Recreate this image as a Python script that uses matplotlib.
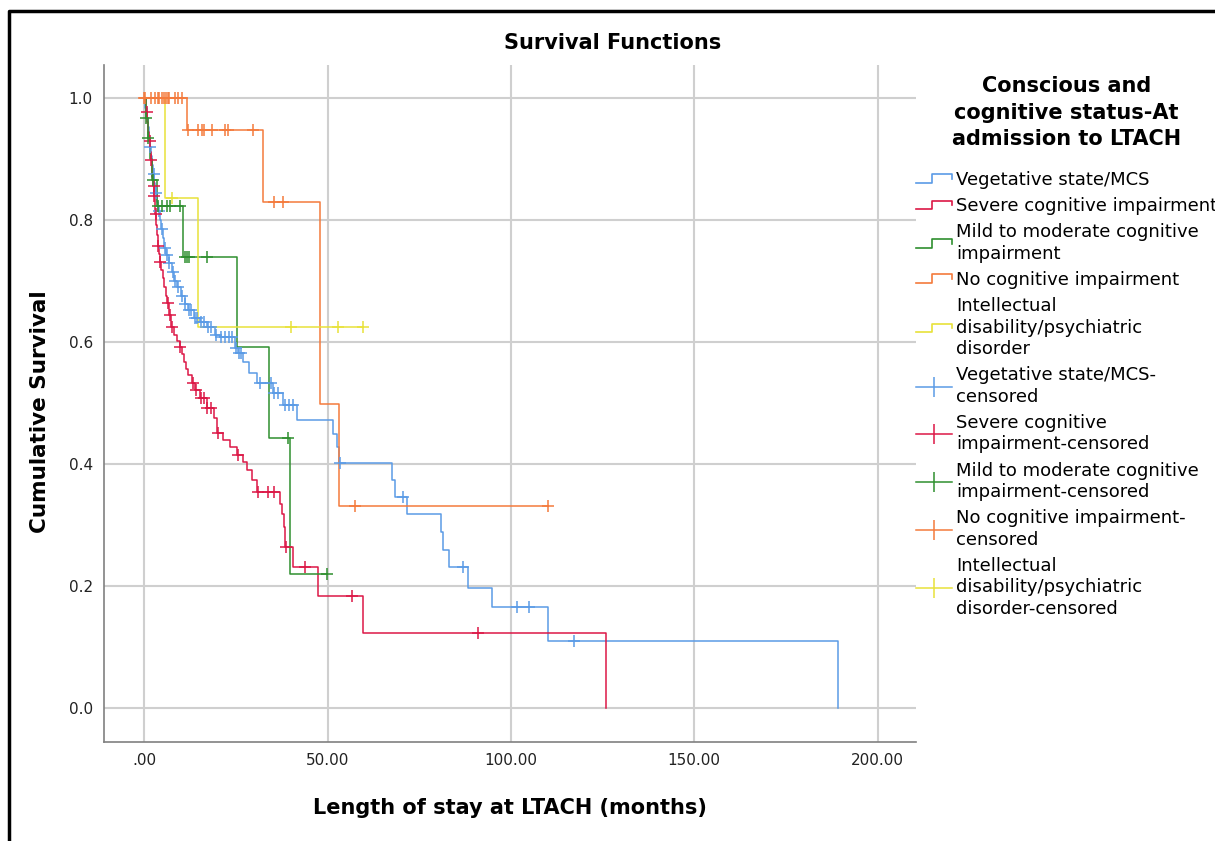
"""
Survival Functions - Kaplan-Meier style chart, length of stay at LTACH
"""

import numpy as np
import matplotlib
matplotlib.use("Agg")
import matplotlib.pyplot as plt
from matplotlib.lines import Line2D
from matplotlib.legend_handler import HandlerBase
from matplotlib.ticker import FuncFormatter

plt.rcParams['font.family'] = ['DejaVu Sans']

# group names (legend order)
groups = ["Vegetative state/MCS",
          "Severe cognitive impairment",
          "Mild to moderate cognitive\nimpairment",
          "No cognitive impairment",
          "Intellectual\ndisability/psychiatric\ndisorder"]
censored_labels = ["Vegetative state/MCS-\ncensored",
                   "Severe cognitive\nimpairment-censored",
                   "Mild to moderate cognitive\nimpairment-censored",
                   "No cognitive impairment-\ncensored",
                   "Intellectual\ndisability/psychiatric\ndisorder-censored"]
colors = ["#5b9be6", "#dc1846", "#2f8f2f", "#f47a3c", "#e8e23a"]

# event times (months) and survival after each event
veg_t = [0.3, 0.6, 0.9, 1.2, 1.5, 1.8, 2.1, 2.4, 2.7, 3.0, 3.4, 3.8, 4.2, 4.6, 5.0,
         5.5, 6.0, 6.6, 7.5, 8.0, 9.0, 10.0, 11.0, 12.0, 13.5, 15.3, 17.2, 19.4,
         20.7, 24.8, 25.6, 27.0, 28.5, 30.8, 35.2, 37.9, 41.7, 51.5, 52.6, 53.2,
         67.6, 68.4, 71.7, 81.0, 81.5, 83.2, 88.4, 94.9, 110.2, 189.3]
veg_s = [.984, .968, .952, .936, .920, .905, .890, .875, .860, .845, .830, .815,
         .800, .785, .770, .755, .742, .730, .715, .700, .690, .676, .662, .652,
         .640, .633, .625, .611, .608, .590, .582, .567, .550, .533, .516, .497,
         .472, .450, .428, .402, .374, .346, .318, .289, .259, .231, .198, .166,
         .110, 0.0]
veg_end = 189.3
veg_cens = [1.6, 2.5, 3.1, 3.9, 4.7, 5.6, 6.2, 6.8, 7.7, 8.3, 9.3, 10.2, 11.2,
            12.2, 12.8, 13.7, 14.5, 15.5, 16.2, 17.4, 18.2, 19.6, 21.0, 22.0,
            23.0, 24.0, 25.0, 25.8, 26.4, 31.5, 34.6, 35.5, 36.5, 38.5, 39.5,
            40.5, 53.4, 70.6, 87.0, 101.7, 105.0, 117.3]

sev_t = [0.4, 0.8, 1.0, 1.3, 1.6, 1.8, 2.0, 2.2, 2.4, 2.6, 2.8, 3.0, 3.2, 3.4,
         3.6, 3.9, 4.2, 4.6, 5.0, 5.4, 5.8, 6.3, 6.8, 7.4, 8.0, 8.8, 9.6, 10.2,
         10.8, 11.4, 12.0, 13.0, 13.9, 15.3, 17.0, 19.0, 19.9, 21.5, 23.5, 25.4,
         26.8, 28.0, 29.5, 30.8, 37.1, 37.6, 38.0, 38.4, 40.6, 47.4, 59.7, 126.0]
sev_s = [.977, .961, .945, .930, .912, .898, .884, .870, .855, .840, .825, .810,
         .792, .775, .757, .745, .731, .718, .705, .690, .676, .664, .645, .625,
         .612, .602, .592, .580, .568, .556, .546, .533, .521, .508, .492, .475,
         .452, .440, .428, .415, .403, .390, .374, .354, .335, .318, .298, .264,
         .231, .185, .123, 0.0]
sev_end = 126.0
sev_cens = [0.6, 1.5, 1.9, 2.5, 2.7, 3.1, 3.7, 4.3, 6.4, 7.0, 7.6, 9.7, 13.2,
            14.1, 15.5, 16.3, 17.2, 18.3, 20.2, 25.6, 31.1, 33.8, 35.5, 38.6,
            43.7, 56.7, 91.1]

mild_t = [0.4, 0.9, 1.6, 2.2, 3.5, 10.6, 25.3, 34.1, 39.6]
mild_s = [.967, .935, .900, .866, .823, .739, .592, .443, .221]
mild_end = 49.9
mild_cens = [0.5, 1.0, 2.3, 3.8, 4.9, 6.3, 7.1, 9.8, 11.2, 11.7, 12.3, 17.2,
             39.3, 49.9]

none_t = [11.7, 32.5, 48.0, 53.2]
none_s = [.947, .830, .498, .331]
none_end = 110.2
none_cens = [0.0, 0.3, 1.9, 2.8, 3.6, 4.1, 4.9, 5.4, 5.9, 6.5, 6.8, 8.4, 9.3,
             10.4, 11.9, 14.7, 15.8, 16.3, 18.5, 22.1, 22.9, 29.7, 35.5, 37.9,
             57.5, 110.2]

intel_t = [5.7, 14.7]
intel_s = [.836, .625]
intel_end = 59.7
intel_cens = [7.6, 40.1, 52.9, 59.7]

curves = [(veg_t, veg_s, veg_end, veg_cens),
          (sev_t, sev_s, sev_end, sev_cens),
          (mild_t, mild_s, mild_end, mild_cens),
          (none_t, none_s, none_end, none_cens),
          (intel_t, intel_s, intel_end, intel_cens)]

x_ticks = [0, 50, 100, 150, 200]
y_ticks = [0.0, 0.2, 0.4, 0.6, 0.8, 1.0]


class StepHandler(HandlerBase):
    def create_artists(self, legend, orig, xd, yd, w, h, fontsize, trans):
        xs = np.array([0, 0.45, 0.45, 1.0, 1.0]) * w - xd
        ys = np.array([0.2, 0.2, 0.85, 0.85, 0.5]) * h - yd
        ln = Line2D(xs, ys, color=orig.get_color(), lw=1.2, transform=trans)
        return [ln]


fig = plt.figure(figsize=(12.15, 8.41), dpi=100)
ax = fig.add_axes([0.0856, 0.1177, 0.6684, 0.805])

for (t, s, end, cens), c in zip(curves, colors):
    xs = np.concatenate([[0.0], t, [end]])
    ys = np.concatenate([[1.0], s, [s[-1]]])
    ax.step(xs, ys, where='post', color=c, lw=1.1, zorder=3)
    # survival at each censoring time from the step function
    idx = np.searchsorted(np.array(t), np.array(cens), side='right')
    surv = np.concatenate([[1.0], s])[idx]
    ax.plot(cens, surv, ls='none', marker='+', ms=9, mew=1.1, color=c, zorder=4)

ax.set_xlim(-11, 210.5)
ax.set_ylim(-0.055, 1.054)
ax.set_xticks(x_ticks)
ax.set_yticks(y_ticks)
ax.xaxis.set_major_formatter(FuncFormatter(lambda v, p: ("%.2f" % v).lstrip("0") if v == 0 else "%.2f" % v))
ax.yaxis.set_major_formatter(FuncFormatter(lambda v, p: "%.1f" % v))
ax.tick_params(length=0, labelsize=11, labelcolor="#222222", pad=8)
ax.grid(True, color="#cfcfcf", lw=1.5, zorder=0)
ax.set_axisbelow(True)
for side in ["top", "right"]:
    ax.spines[side].set_visible(False)
for side in ["left", "bottom"]:
    ax.spines[side].set_color("#808080")
    ax.spines[side].set_linewidth(1.2)

fig.text(0.504, 0.949, "Survival Functions", ha='center', va='center',
         fontsize=15, fontweight='bold')
fig.text(0.42, 0.039, "Length of stay at LTACH (months)", ha='center', va='center',
         fontsize=15, fontweight='bold')
fig.text(0.033, 0.51, "Cumulative Survival", ha='center', va='center',
         rotation=90, fontsize=15.5, fontweight='bold')

# legend
handles = [Line2D([], [], color=c) for c in colors]
handles += [Line2D([], [], color=c, lw=1.1, marker='|', ms=15, mew=1.1) for c in colors]
labels = groups + censored_labels
hmap = {h: StepHandler() for h in handles[:5]}
leg = fig.legend(handles, labels, loc='upper left', bbox_to_anchor=(0.748, 0.918),
                 frameon=False, fontsize=13, numpoints=1, handlelength=2.0,
                 handletextpad=0.2, labelspacing=0.45, borderaxespad=0,
                 title="Conscious and\ncognitive status-At\nadmission to LTACH",
                 title_fontproperties={'weight': 'bold', 'size': 15},
                 handler_map=hmap)
leg.get_title().set_multialignment('center')
leg.get_title().set_linespacing(1.4)
leg._legend_box.sep = 16
for txt in leg.get_texts():
    txt.set_linespacing(1.25)

# outer black frame (left and top edges visible)
fig.add_artist(Line2D([9 / 1215, 9 / 1215, 1.0], [0.0, 1 - 11 / 841, 1 - 11 / 841],
                      transform=fig.transFigure, color='black', lw=2.5))

fig.savefig("out.png", dpi=100)
